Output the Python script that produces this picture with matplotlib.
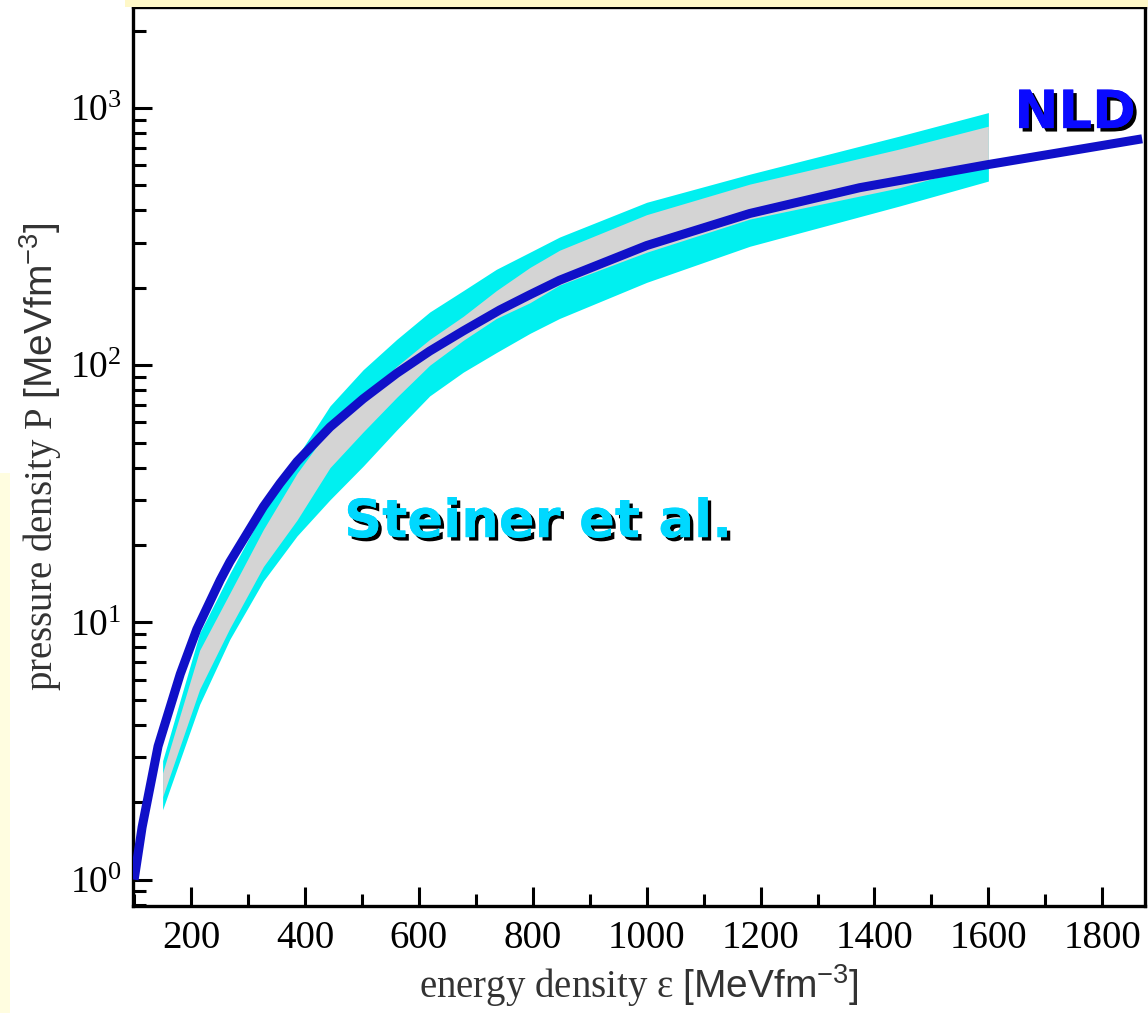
import matplotlib
matplotlib.use("Agg")
import matplotlib.pyplot as plt
import matplotlib.patheffects as pe
from matplotlib.patches import Rectangle
from matplotlib.ticker import LogLocator, MultipleLocator, FixedLocator

plt.rcParams['font.family'] = ['Liberation Serif', 'DejaVu Serif']
plt.rcParams['mathtext.fontset'] = 'custom'
plt.rcParams['mathtext.rm'] = 'Liberation Serif'
plt.rcParams['mathtext.sf'] = 'Liberation Sans'
plt.rcParams['mathtext.it'] = 'Liberation Serif:italic'

# ---- data ----
nld_eps = [100, 114, 142, 181, 210, 251, 268, 327, 356, 386, 444, 502, 561, 619,
           678, 742, 795, 847, 1000, 1181, 1374, 1600, 1870]
nld_p = [1.0, 1.6, 3.3, 6.3, 9.4, 14.6, 17.2, 28.2, 34.7, 42.2, 57.5, 74, 93, 113.5,
         136, 164, 188, 214, 292, 389, 490, 603, 759]

band_eps = [150, 215, 268, 327, 386, 444, 502, 561, 619, 678, 736, 795, 847,
            1000, 1181, 1444, 1600]
outer_upper = [2.9, 9.1, 15.5, 27, 44, 69.5, 96, 126, 161, 195, 236, 275, 315,
               430, 553, 778, 960]
inner_upper = [2.6, 7.8, 13, 23, 38, 57, 76, 99, 126, 155, 195, 240, 280,
               385, 506, 693, 850]
inner_lower = [2.1, 5.5, 9.5, 16.5, 25, 40, 55, 75, 100, 125, 152, 175, 205,
               275, 370, 490, 610]
outer_lower = [1.87, 4.8, 8.6, 14.5, 21.7, 30, 40.5, 56, 76, 94, 112, 133, 152,
               210, 290, 416, 520]

x_ticks = [200, 400, 600, 800, 1000, 1200, 1400, 1600, 1800]

fig = plt.figure(figsize=(11.48, 10.13), dpi=100)
# slide background remnants
fig.patches.append(Rectangle((0, 0), 10 / 1148, (1013 - 473) / 1013, transform=fig.transFigure,
                             facecolor='#fffde0', edgecolor='none', zorder=0))
fig.patches.append(Rectangle((125 / 1148, 1 - 7 / 1013), 1, 7 / 1013, transform=fig.transFigure,
                             facecolor='#fff8c8', edgecolor='none', zorder=0))

ax = fig.add_axes([133 / 1148, 107 / 1013, 1012 / 1148, 899 / 1013])
ax.set_yscale('log')
ax.set_xlim(98, 1875)
ax.set_ylim(0.79, 2470)

ax.fill_between(band_eps, outer_lower, outer_upper, color='#00f0f0', lw=0, zorder=1)
ax.fill_between(band_eps, inner_lower, inner_upper, color='#d4d4d4', lw=0, zorder=2)
ax.plot(nld_eps, nld_p, color='#1010c8', lw=6.5, solid_capstyle='butt',
        solid_joinstyle='round', zorder=3)

for s in ax.spines.values():
    s.set_linewidth(2.4)
ax.tick_params(which='both', direction='in', top=False, right=False, width=2.2)
ax.tick_params(which='major', length=14, pad=10)
ax.tick_params(which='minor', length=9)
ax.tick_params(axis='x', labelsize=28)
ax.tick_params(axis='y', labelsize=27, pad=8)
ax.xaxis.set_major_locator(FixedLocator(x_ticks))
ax.xaxis.set_minor_locator(MultipleLocator(100))
ax.yaxis.set_major_locator(LogLocator(base=10, numticks=10))
ax.yaxis.set_minor_locator(LogLocator(base=10, subs=range(2, 10), numticks=20))

ax.set_xlabel(r"energy density ε $\mathsf{[MeVfm^{-3}]}$", fontsize=28, labelpad=4, color='#333333')
ax.set_ylabel(r"pressure density P $\mathsf{[MeVfm^{-3}]}$", fontsize=28, labelpad=4, color='#333333')

shadow = [pe.withSimplePatchShadow(offset=(2.5, -2.5), shadow_rgbFace='black', alpha=1.0), pe.Normal()]
ax.text(0.931, 0.882, "NLD", transform=ax.transAxes, fontsize=38,
        fontweight='bold', family='DejaVu Sans', color='#0a0aff', ha='center', va='center',
        path_effects=shadow, zorder=5)
ax.text(0.40, 0.427, "Steiner et al.", transform=ax.transAxes, fontsize=38,
        fontweight='bold', family='DejaVu Sans', color='#00d8ff', ha='center', va='center',
        path_effects=shadow, zorder=5)

fig.savefig("out.png", dpi=100)
